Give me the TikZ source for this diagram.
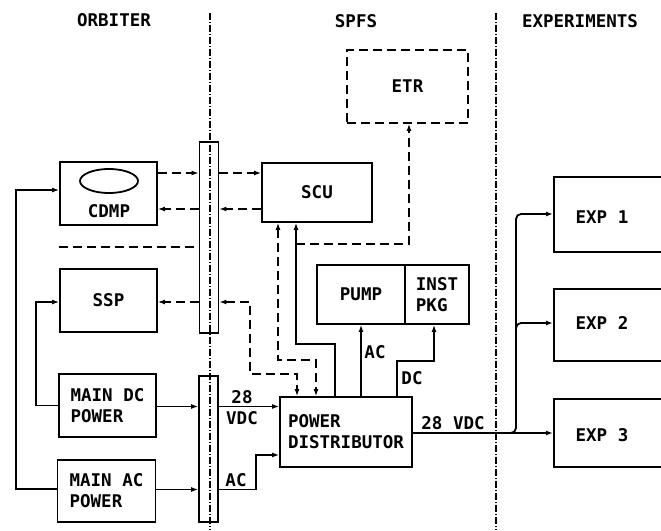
\documentclass[tikz,border=0pt]{standalone}
\usepackage{fontspec}
\setmonofont{DejaVu Sans Mono}
\usetikzlibrary{arrows.meta, positioning, calc, shapes.geometric}

\begin{document}
\begin{tikzpicture}[x=1pt, y=-1pt, >={Latex[length=7pt,width=5pt]}, line width=1.8pt,
    every node/.style={font=\ttfamily\bfseries\fontsize{17.5}{21}\selectfont, inner sep=0pt},
    blk/.style={draw, rectangle, align=left},
    bar/.style={draw, rectangle, minimum width=19pt},
    dsh/.style={dash pattern=on 9pt off 5pt},
    sep/.style={line width=1.2pt, dash pattern=on 7pt off 2pt on 1pt off 2pt}]
          \useasboundingbox (0,0) rectangle (661,530);
          \clip (0,0) rectangle (661,530);
          \draw[sep] (210,13) -- (210,530);
          \draw[sep] (496,13) -- (496,530);
          \node (orb) at (114,20) {ORBITER};
          \node (spfs) at (356,21) {SPFS};
          \node (expts) at (580,21) {EXPERIMENTS};
          \node (cdmp) [blk, minimum width=97pt, minimum height=63pt] at (108.5,193.5) {};
          \node (disk) [draw, ellipse, minimum width=58pt, minimum height=24pt] at (109,181) {};
          \node (cdmptxt) at (109,211) {CDMP};
          \node (ssp) [blk, minimum width=97pt, minimum height=63pt] at (108.5,300.5) {SSP};
          \node (mdc) [blk, minimum width=97pt, minimum height=63pt] at (107.5,405.5) {MAIN DC\\POWER};
          \node (mac) [blk, minimum width=98pt, minimum height=62pt] at (106.5,491) {MAIN AC\\POWER};
          \node (ubar) [bar, minimum height=191pt] at (209,237.5) {};
          \node (lbar) [bar, minimum height=146pt] at (208.5,449) {};
          \node (scu) [blk, minimum width=110pt, minimum height=59pt] at (317,192.5) {SCU};
          \node (etr) [blk, dsh, minimum width=121pt, minimum height=73pt] at (407.5,86.5) {ETR};
          \node (pump) [blk, minimum width=88pt, minimum height=59pt] at (361,294.5) {PUMP};
          \node (inst) [blk, minimum width=64pt, minimum height=59pt] at (437,294.5) {INST\\PKG};
          \node (pd) [blk, minimum width=132pt, minimum height=70pt] at (346,432) {POWER\\DISTRIBUTOR};
          \node (exp1) [blk, minimum width=120pt, minimum height=75pt, anchor=west] at (553,214.5) {};
          \node (exp2) [blk, minimum width=120pt, minimum height=72pt, anchor=west] at (553,325) {};
          \node (exp3) [blk, minimum width=120pt, minimum height=68pt, anchor=west] at (553,433) {};
          \node (e1txt) at (602,217) {EXP 1};
          \node (e2txt) at (602,323) {EXP 2};
          \node (e3txt) at (602,435) {EXP 3};
          \coordinate (r1) at (0,173);
          \coordinate (r2) at (0,209);
          \coordinate (r3) at (0,247);
          \coordinate (r4) at (0,302);
          \coordinate (rdc) at (0,406.5);
          \coordinate (rac) at (0,489.5);
          \coordinate (rout) at (0,433);
          \draw[dsh,->] (r1 -| cdmp.east) -- (r1 -| ubar.west);
          \draw[dsh,->] (r1 -| ubar.east) -- (r1 -| scu.west);
          \draw[dsh,->] (r2 -| scu.west) -- (r2 -| ubar.east);
          \draw[dsh,->] (r2 -| ubar.west) -- (r2 -| cdmp.east);
          \draw[dsh] (r3 -| cdmp.west) -- (r3 -| ubar.west);
          \draw[dsh,->] (r4 -| ubar.west) -- (r4 -| ssp.east);
          \draw[dsh,<->] (r4 -| ubar.east) -| (250,374) -| ([xshift=-49pt]pd.north);
          \draw[dsh,<->] ([xshift=-39pt]scu.south) -- ++(0,137) -| ([xshift=-30pt]pd.north);
          \draw[<-] ([xshift=-21pt]scu.south) -- ++(0,121) -| ([xshift=-11pt]pd.north);
          \draw[dsh,->] (296,244) -| ([xshift=1.5pt]etr.south);
          \draw[->] (pump.south |- pd.north) -- (pump.south);
          \node (lblac) at (375,352) {AC};
          \draw[->] ([xshift=51pt]pd.north) -- ++(0,-35) -| ([xshift=-3pt]inst.south);
          \node (lbldc) at (412,378) {DC};
          \draw[->] (rdc -| mdc.east) -- (rdc -| lbar.west);
          \draw[->] (rdc -| lbar.east) -- (rdc -| pd.west);
          \node (lbl28) [align=center] at (242,407.5) {28\\VDC};
          \draw[->] (rac -| mac.east) -- (rac -| lbar.west);
          \draw[->] (rac -| lbar.east) -| (256,455) -- ([yshift=-23pt]pd.west);
          \node (lblac2) at (236,480) {AC};
          \draw[->] ([yshift=2pt]mac.west) -| (16,190) -- ([yshift=3.5pt]cdmp.west);
          \draw[->] (mdc.west) -| (36,302) -- ([yshift=-1.5pt]ssp.west);
          \draw[->] (rout -| pd.east) -- (rout -| exp3.west);
          \node (lblout) at (453,423) {28 VDC};
          \draw[->, rounded corners=5pt] (500,433) -| (516,214) -- ([yshift=0.5pt]exp1.west);
          \draw[->, rounded corners=5pt] (516,340) |- ([yshift=2pt]exp2.west);
      \end{tikzpicture}
\end{document}
